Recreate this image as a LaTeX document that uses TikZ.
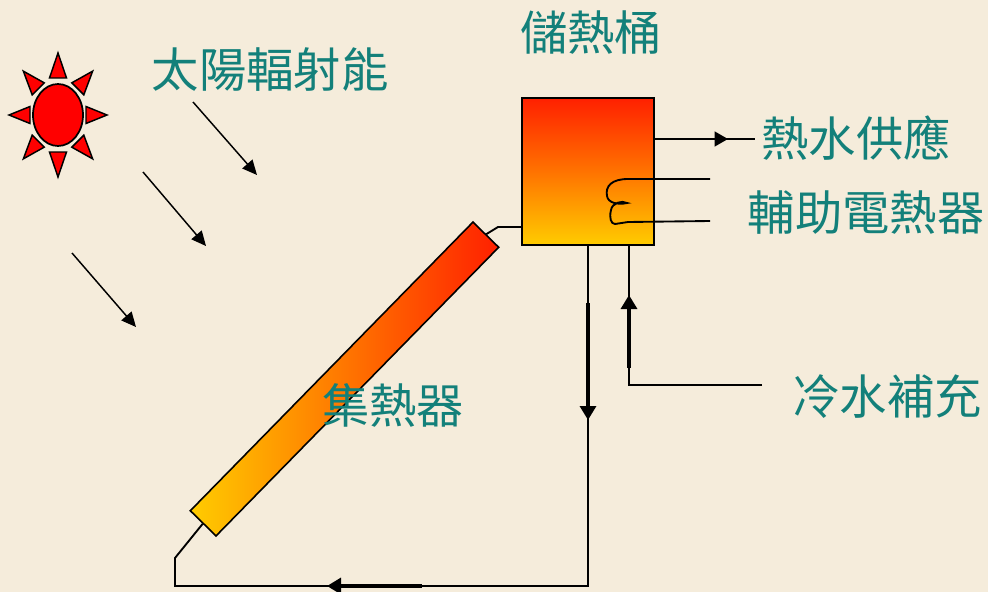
\documentclass[tikz,border=0pt]{standalone}
\usepackage{fontspec}
\newfontfamily\cjk{Noto Sans CJK TC}
\usetikzlibrary{arrows.meta,shapes.geometric}

\definecolor{paper}{HTML}{F5ECDB}
\definecolor{labelteal}{HTML}{13807A}
\definecolor{hotred}{HTML}{FF2000}
\definecolor{warmyellow}{HTML}{FFCC00}
\definecolor{sunred}{HTML}{FF0000}

\tikzset{
  pipe/.style={line width=1.4pt, black},
  flowarrow/.style={line width=2.4pt, black, -{Triangle[length=10.5pt,width=12pt]}},
  supplyarrow/.style={line width=1.7pt, black, -{Triangle[length=10pt,width=11pt]}},
  rayarrow/.style={line width=1.1pt, black, -{Triangle[length=11pt,width=10pt]}},
  caption/.style={font=\cjk\fontsize{35.5}{40}\selectfont, text=labelteal, inner sep=0pt},
  tankbox/.style={draw=black, line width=1.6pt, top color=hotred, bottom color=warmyellow,
    middle color=orange!90!red, minimum width=99pt, minimum height=110.25pt, inner sep=0pt},
  collectorbox/.style={draw=black, line width=1.2pt, left color=warmyellow, right color=hotred,
    minimum width=303pt, minimum height=27pt, inner sep=0pt, rotate=45.6},
  sunbody/.style={ellipse, draw=black, line width=1.3pt, fill=sunred,
    minimum width=37.5pt, minimum height=46.5pt, inner sep=0pt},
  sunray/.style={draw=black, line width=1.1pt, fill=sunred, line join=miter},
}

\begin{document}
\begin{tikzpicture}[x=0.75pt,y=-0.75pt]
  % paper background
  \fill[paper] (0,0) rectangle (988,592);
  \useasboundingbox (0,0) rectangle (988,592);

  % sun with eight rays
  \foreach \a in {0,45,...,315}{
    \path[sunray] ({58+49*cos(\a)},{115-62*sin(\a)})
      -- ({58+28*cos(\a)+8.5*sin(\a)},{115-37*sin(\a)+8.5*cos(\a)})
      -- ({58+28*cos(\a)-8.5*sin(\a)},{115-37*sin(\a)-8.5*cos(\a)}) -- cycle;
  }
  \node[sunbody] (sun) at (58,115) {};

  % incoming radiation
  \coordinate (r1a) at (193,102); \coordinate (r1b) at (257,175);
  \coordinate (r2a) at (143,172); \coordinate (r2b) at (206,246);
  \coordinate (r3a) at (72,253);  \coordinate (r3b) at (136,327);
  \draw[rayarrow] (r1a) -- (r1b);
  \draw[rayarrow] (r2a) -- (r2b);
  \draw[rayarrow] (r3a) -- (r3b);

  % storage tank and collector
  \node[tankbox] (tank) at (588,171.5) {};
  \node[collectorbox] (coll) at (344.5,379) {};

  % pipe end points
  \coordinate (tin)   at (522,227);
  \coordinate (knee)  at (498,227);
  \coordinate (hot)   at (755,139);
  \coordinate (cold)  at (762,385);
  \coordinate (cbend) at (629,385);
  \coordinate (dbot)  at (588,586);
  \coordinate (lbot)  at (175,586);
  \coordinate (lup)   at (175,558);

  % hot water from collector into the tank
  \draw[pipe] (coll.east) -- (knee) -- (tank.west |- tin);
  % hot water supply
  \draw[pipe] (tank.east |- hot) -- (hot);
  \draw[supplyarrow] (680,139) -- (728,139);
  % return loop to the collector
  \draw[pipe] (tank.south -| dbot) -- (dbot) -- (lbot) -- (lup) -- (coll.west);
  \draw[flowarrow] (588,303) -- (588,420);
  \draw[flowarrow] (422,586) -- (327,586);
  % cold water make-up
  \draw[pipe] (cold) -- (cbend) -- (tank.south -| cbend);
  \draw[flowarrow] (629,368) -- (629,295);

  % auxiliary electric heater
  \draw[pipe] (710,179) -- (628,179)
    .. controls (612,179) and (605,186) .. (607,196)
    .. controls (608,203) and (618,205) .. (627,203)
    .. controls (622,200) and (612,203) .. (611,210)
    .. controls (609,218) and (611,224) .. (615,224)
    -- (628,222) -- (710,221);

  % labels
  \node[caption] (tsun)  at (270,70)  {太陽輻射能};
  \node[caption] (ttank) at (591,33)  {儲熱桶};
  \node[caption] (thot)  at (856,138) {熱水供應};
  \node[caption] (theat) at (866,213) {輔助電熱器};
  \node[caption] (tcold) at (887,397) {冷水補充};
  \node[caption] (tcoll) at (393,405) {集熱器};
\end{tikzpicture}
\end{document}
